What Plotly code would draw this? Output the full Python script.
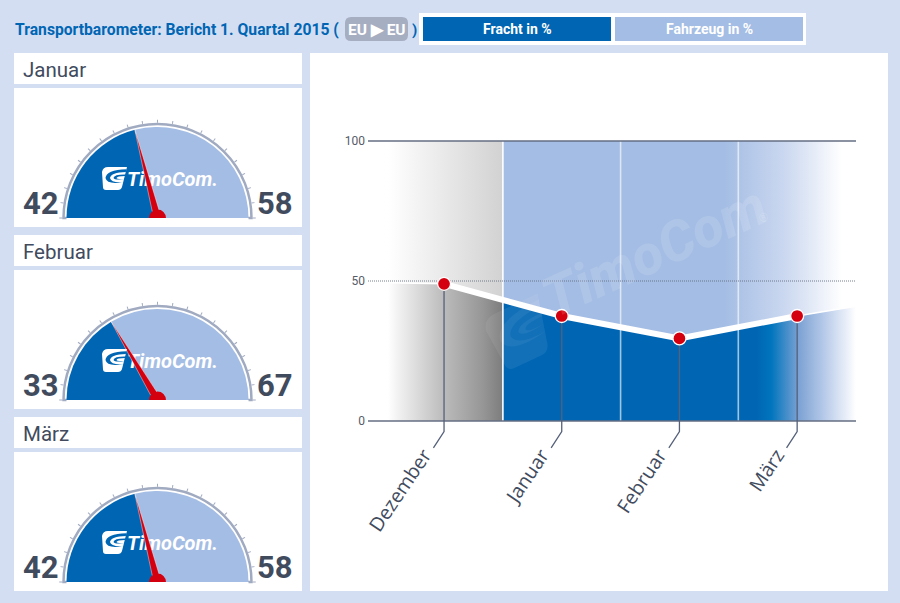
import math

import plotly.graph_objects as go

W, H = 900, 603

# --- data ---
chart_months = ["Dezember", "Januar", "Februar", "März"]
chart_pos = [0, 1, 2, 3]
chart_fracht = [49, 37.5, 29.5, 37.5]
fade_in_pos, fade_in_val = -0.5, 49.4
fade_out_pos, fade_out_val = 3.5, 41
month_edges = [0.5, 1.5, 2.5]
y_ticks = [0, 50, 100]

gauge_months = ["Januar", "Februar", "März"]
gauge_fracht = [42, 33, 42]
gauge_fahrzeug = [58, 67, 58]
gauge_ticks = list(range(0, 101, 5))

# --- colours ---
BG = "#d4def3"
BLUE = "#0066b3"
LIGHT = "#a4bde4"
DARK = "#414b5e"
RED = "#d4000f"
ARC = "#a0aac0"
AXIS = "#656e82"
FONT = "Roboto"


def fx(x):
    return x / W


def fy(y):
    return 1 - y / H


def rect(x0, y0, x1, y1, color, layer="below"):
    return dict(type="rect", xref="paper", yref="paper", layer=layer,
                x0=fx(x0), x1=fx(x1), y0=fy(y1), y1=fy(y0),
                fillcolor=color, line_width=0)


def label(x, y, text, size, color, anchor="left", weight=400, family=FONT, style="normal", **kw):
    return dict(xref="paper", yref="paper", x=fx(x), y=fy(y), text=text, showarrow=False,
                xanchor=anchor, yanchor="middle", align=anchor, borderpad=0,
                font=dict(family=family, size=size, color=color, weight=weight, style=style), **kw)


def logo_paths(x, y, s, fill, swoosh, rot=0):
    # rounded TimoCom badge, x/y = top left, s = scale, rot = turn in degrees
    c, n = math.cos(math.radians(rot)), math.sin(math.radians(rot))

    def p(a, b):
        px = x + (a * c - b * n) * s
        py = y + (a * n + b * c) * s
        return f"{px / W:.5f},{1 - py / H:.5f}"

    badge = (f"M{p(6,0)} L{p(25,0)} L{p(20,20)} Q{p(19,23)} {p(16,23)} L{p(4,23)} "
             f"Q{p(1,23)} {p(1,20)} L{p(0,5)} Q{p(1,0)} {p(6,0)} Z")
    crescent = (f"M{p(24.6,2.2)} Q{p(4,3)} {p(3.5,11)} Q{p(5,18)} {p(21.5,15)} "
                f"Q{p(9,16)} {p(8,11)} Q{p(9,5.5)} {p(23.8,5)} Z")
    stroke = (f"M{p(23.4,7.6)} Q{p(12,7.5)} {p(11.5,11)} Q{p(13,13.5)} {p(22.2,12)} "
              f"Q{p(15,12.5)} {p(14.5,11)} Q{p(15,9)} {p(23,9)} Z")
    return [dict(type="path", xref="paper", yref="paper", layer="above", path=badge,
                 fillcolor=fill, line_width=0)] + [
        dict(type="path", xref="paper", yref="paper", layer="above", path=d,
             fillcolor=swoosh, line_width=0) for d in (crescent, stroke)]


fig = go.Figure()

# --- big chart ---
line_x = [fade_in_pos] + chart_pos + [fade_out_pos]
line_y = [fade_in_val] + chart_fracht + [fade_out_val]

below_scale = [[0, "#ffffff"], [0.006, "#ffffff"], [0.03, "#f0f0f0"], [0.066, "#dcdcdc"], [0.123, "#bcbcbc"],
               [0.208, "#969696"], [0.249, "#7d7d7d"], [0.25, BLUE], [0.79, BLUE], [0.82, "#0075bd"],
               [0.88, "#7ea3d4"], [0.93, "#b4c8e8"], [1, "#ffffff"]]
above_scale = [[0, "#ffffff"], [0.006, "#ffffff"], [0.249, "#d2d2d2"],
               [0.25, LIGHT], [0.72, LIGHT], [0.85, "#cbd8f0"], [0.97, "#ffffff"], [1, "#ffffff"]]

fig.add_trace(go.Scatter(x=line_x, y=[0] * len(line_x), mode="lines", line_width=0, hoverinfo="skip"))
fig.add_trace(go.Scatter(x=line_x, y=line_y, mode="lines", line_width=0, fill="tonexty", hoverinfo="skip",
                         fillgradient=dict(type="horizontal", colorscale=below_scale,
                                           start=fade_in_pos, stop=fade_out_pos)))
fig.add_trace(go.Scatter(x=line_x, y=[100] * len(line_x), mode="lines", line_width=0, fill="tonexty",
                         hoverinfo="skip",
                         fillgradient=dict(type="horizontal", colorscale=above_scale,
                                           start=fade_in_pos, stop=fade_out_pos)))

# month separators
for i, edge in enumerate(month_edges):
    fig.add_trace(go.Scatter(x=[edge, edge], y=[y_ticks[0], y_ticks[-1]], mode="lines", hoverinfo="skip",
                             line=dict(color="#ffffff" if i == 0 else "rgba(255,255,255,0.62)", width=1.6)))

# reference lines
x_lo, x_hi = -0.646, 3.5
for tick in y_ticks:
    fig.add_trace(go.Scatter(x=[x_lo, x_hi], y=[tick, tick], mode="lines", hoverinfo="skip",
                             line=dict(color=AXIS, width=0.9 if tick == 50 else 1.6,
                                       dash="1px,1px" if tick == 50 else "solid")))

# thin run-in / run-out, then the thick line
fig.add_trace(go.Scatter(x=line_x, y=line_y, mode="lines", line=dict(color="#ffffff", width=1.5), hoverinfo="skip"))
fig.add_trace(go.Scatter(x=chart_pos, y=chart_fracht, mode="lines", line=dict(color="#ffffff", width=6),
                         hoverinfo="skip"))

# leader lines from each point to its label
for pos, val in zip(chart_pos, chart_fracht):
    fig.add_trace(go.Scatter(x=[pos, pos, pos - 0.09], y=[val, -3.8, -9.6], mode="lines", hoverinfo="skip",
                             line=dict(color="#55607a", width=1.3)))

fig.add_trace(go.Scatter(x=chart_pos, y=chart_fracht, mode="markers", hoverinfo="skip",
                         marker=dict(color=RED, size=13, line=dict(color="#ffffff", width=1.3))))

# --- panels, texts, gauges ---
eu_box = ("M{0},{1} L{2},{1} Q{3},{1} {3},{4} L{3},{5} Q{3},{6} {2},{6} L{0},{6} "
          "Q{7},{6} {7},{5} L{7},{4} Q{7},{1} {0},{1} Z").format(
    fx(351), fy(17), fx(402), fx(408), fy(23), fy(35), fy(41), fx(345))
shapes = [rect(310, 53, 888, 591, "#ffffff"),
          rect(419, 13, 806, 45, "#ffffff"), rect(423, 17, 611, 41, BLUE), rect(615, 17, 803, 41, LIGHT),
          dict(type="path", xref="paper", yref="paper", layer="below", path=eu_box,
               fillcolor="#a6aec2", line_width=0)]
annotations = [
    label(14, 29.5, "<b>Transportbarometer: Bericht 1. Quartal 2015 (</b>", 15.7, BLUE),
    label(376.5, 29.5, "<b>EU ▶ EU</b>", 15.5, "#ffffff", anchor="center"),
    label(411, 29.5, "<b>)</b>", 15, BLUE),
    label(517, 29, "<b>Fracht in %</b>", 14, "#ffffff", anchor="center"),
    label(709, 29, "<b>Fahrzeug in %</b>", 14, "#ffffff", anchor="center"),
    label(654, 252, "TimoCom", 56, "rgba(255,255,255,0.13)", anchor="center", weight=800, style="italic",
          textangle=-24.5),
    label(763, 218, "®", 12, "rgba(255,255,255,0.16)", anchor="center", textangle=-24.5),
]
shapes += logo_paths(481, 320, 2.5, "rgba(255,255,255,0.07)", "rgba(255,255,255,0.06)", rot=-25)

gauge_layout = {}
for i, (month, fracht, fahrzeug) in enumerate(zip(gauge_months, gauge_fracht, gauge_fahrzeug)):
    top = 53 + i * 182
    cx, cy, radius = 157.5, top + 165, 94
    pid = "polar" if i == 0 else f"polar{i + 1}"
    angle = 180 - 1.8 * fracht

    shapes += [rect(14, top, 302, top + 31, "#ffffff"), rect(14, top + 35, 302, top + 174, "#ffffff")]
    # the sector outline closes along the bottom, the original has no base line
    shapes.append(rect(cx - 91, cy, cx + 91, cy + 2.5, "#ffffff", layer="above"))
    annotations += [
        label(22, top + 17, month, 20.5, DARK),
        label(22, top + 150, f"<b>{fracht}</b>", 31, DARK),
        label(294, top + 150, f"<b>{fahrzeug}</b>", 31, DARK, anchor="right"),
    ]
    shapes += logo_paths(102, top + 114, 1.0, "#ffffff", BLUE)

    fig.add_trace(go.Barpolar(r=[0.968], theta=[180 - fracht * 0.9], width=[fracht * 1.8], subplot=pid,
                              marker=dict(color=BLUE, line_width=0), hoverinfo="skip"))
    fig.add_trace(go.Barpolar(r=[0.968], theta=[angle / 2], width=[angle], subplot=pid,
                              marker=dict(color=LIGHT, line_width=0), hoverinfo="skip"))
    fig.add_trace(go.Barpolar(r=[0.09], theta=[90], width=[180], subplot=pid,
                              marker=dict(color=RED, line_width=0), hoverinfo="skip"))
    # longer ticks on every second mark
    for t in gauge_ticks[::2]:
        fig.add_trace(go.Scatterpolar(r=[1, 1.055], theta=[180 - 1.8 * t] * 2, mode="lines", subplot=pid,
                                      cliponaxis=False, line=dict(color=ARC, width=1), hoverinfo="skip"))
    fig.add_trace(go.Scatterpolar(r=[0.425], theta=[68], mode="text", text=["TimoCom."], subplot=pid,
                                  textfont=dict(family=FONT, size=20, color="#ffffff", style="italic", weight=700),
                                  hoverinfo="skip"))
    fig.add_trace(go.Scatterpolar(r=[0.09, 0.975, 0.09], theta=[angle + 24, angle, angle - 24], mode="lines",
                                  fill="toself", fillcolor=RED, line=dict(color="rgba(255,255,255,0.7)", width=0.6),
                                  subplot=pid, hoverinfo="skip"))

    gauge_layout[pid] = dict(
        domain=dict(x=[fx(cx - radius), fx(cx + radius)], y=[fy(cy), fy(cy - radius)]),
        sector=[0, 180], bgcolor="rgba(0,0,0,0)", barmode="overlay",
        radialaxis=dict(range=[0, 1], visible=False),
        angularaxis=dict(tickvals=[180 - 1.8 * t for t in gauge_ticks], ticks="outside", ticklen=3, tickwidth=1,
                         tickcolor=ARC, showticklabels=False, showgrid=False, linecolor=ARC, linewidth=2.5,
                         layer="below traces"),
    )

fig.update_layout(
    width=W, height=H, autosize=False, showlegend=False,
    margin=dict(l=0, r=0, t=0, b=0, autoexpand=False),
    paper_bgcolor=BG, plot_bgcolor="rgba(0,0,0,0)",
    font=dict(family=FONT),
    shapes=shapes, annotations=annotations,
    xaxis=dict(domain=[fx(368), fx(856)], range=[x_lo, x_hi], tickvals=chart_pos, ticktext=chart_months,
               tickangle=-56, showgrid=False, zeroline=False, showline=False, ticks="",
               tickfont=dict(family="Open Sans", size=19.5, color=DARK), ticklabelshift=-20, ticklabelstandoff=-10),
    yaxis=dict(domain=[fy(449), fy(135.4)], range=[-10, 102], tickvals=y_ticks, showgrid=False, zeroline=False,
               showline=False, ticks="", tickfont=dict(family=FONT, size=12, color="#555c68"),
               ticklabelstandoff=2),
    **gauge_layout,
)

fig.write_html("out.html", config=dict(displayModeBar=False),
               post_script="document.body.style.margin='0';document.body.style.overflow='hidden';")
